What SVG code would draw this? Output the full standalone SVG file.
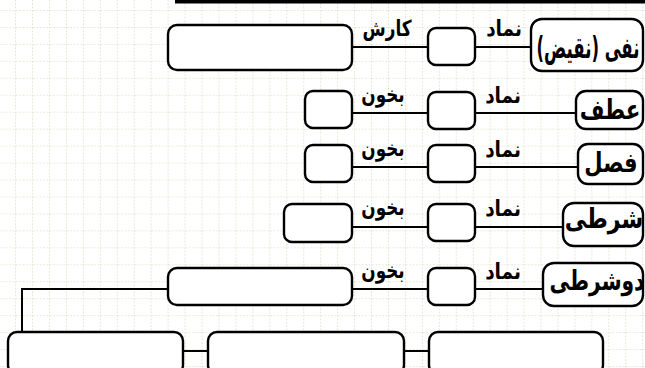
<svg xmlns="http://www.w3.org/2000/svg" width="645" height="368" viewBox="0 0 645 368">
<style>
.box{fill:#fff;stroke:#000;stroke-width:2.4}
.con{fill:none;stroke:#000;stroke-width:2}
.lbl{font-family:"DejaVu Sans",sans-serif;font-weight:bold;font-size:21px;fill:#000;text-anchor:middle;direction:rtl}
.nl{font-family:"DejaVu Sans",sans-serif;font-weight:bold;font-size:27px;fill:#000;text-anchor:middle;direction:rtl}
</style>
<defs>
<pattern id="grid" patternUnits="userSpaceOnUse" x="-0.9" y="10" width="16.95" height="16.95">
<line x1="0" y1="0" x2="16.95" y2="0" stroke="#e2dfca" stroke-width="1.6" stroke-dasharray="1.7 1.69"/>
<line x1="16.9" y1="0" x2="16.9" y2="16.95" stroke="#e2dfca" stroke-width="1.6" stroke-dasharray="1.7 1.69"/>
</pattern>
</defs>
<rect width="645" height="368" fill="#fff"/>
<rect width="645" height="368" fill="url(#grid)"/>
<rect x="175" y="0" width="470" height="3.5" fill="#000"/>

<g id="connectors">
<path class="con" d="M352 47H428M475 47H531"/>
<path class="con" d="M352 113H428M475 113H576"/>
<path class="con" d="M352 167H428M475 167H578"/>
<path class="con" d="M352 227H428M475 227H563"/>
<path class="con" d="M352 289H428M475 289H543"/>
<path class="con" d="M168 289H22V332"/>
<path class="con" d="M183 351H208M404 351H429"/>
</g>
<g id="labels">
<text class="lbl" transform="translate(387,36) scale(0.8,1.05)">کارش</text>
<text class="lbl" transform="translate(504,36) scale(0.88,1.05)">نماد</text>
<text class="lbl" transform="translate(383,102) scale(0.8,1.05)">بخون</text>
<text class="lbl" transform="translate(503,103) scale(0.88,1.05)">نماد</text>
<text class="lbl" transform="translate(383,156) scale(0.8,1.05)">بخون</text>
<text class="lbl" transform="translate(503,157) scale(0.88,1.05)">نماد</text>
<text class="lbl" transform="translate(383,215) scale(0.8,1.05)">بخون</text>
<text class="lbl" transform="translate(503,216) scale(0.88,1.05)">نماد</text>
<text class="lbl" transform="translate(383,278) scale(0.8,1.05)">بخون</text>
<text class="lbl" transform="translate(503,279) scale(0.88,1.05)">نماد</text>
</g>

<g id="n1-label"><rect class="box" x="531" y="19" width="112" height="52" rx="11"/><text class="nl" style="font-size:25px" transform="translate(588,58) scale(0.66,1.18)">نفی (نقیض)</text></g>
<g id="n1-symbol"><rect class="box" x="428" y="28" width="47" height="37" rx="8"/></g>
<g id="n1-result"><rect class="box" x="168" y="25" width="184" height="45" rx="9"/></g>

<g id="n2-label"><rect class="box" x="576" y="91" width="67" height="38" rx="10"/><text class="nl" transform="translate(610,119) scale(0.79,1)">عطف</text></g>
<g id="n2-symbol"><rect class="box" x="428" y="92" width="47" height="37" rx="8"/></g>
<g id="n2-read"><rect class="box" x="305" y="91" width="47" height="37" rx="8"/></g>

<g id="n3-label"><rect class="box" x="578" y="144" width="65" height="40" rx="10"/><text class="nl" transform="translate(611,172) scale(0.78,1)">فصل</text></g>
<g id="n3-symbol"><rect class="box" x="428" y="145" width="47" height="37" rx="8"/></g>
<g id="n3-read"><rect class="box" x="305" y="145" width="47" height="37" rx="8"/></g>

<g id="n4-label"><rect class="box" x="563" y="203" width="80" height="43" rx="11"/><text class="nl" transform="translate(604,228) scale(0.82,1)">شرطی</text></g>
<g id="n4-symbol"><rect class="box" x="428" y="204" width="47" height="37" rx="8"/></g>
<g id="n4-read"><rect class="box" x="284" y="204" width="68" height="38" rx="8"/></g>

<g id="n5-label"><rect class="box" x="543" y="263" width="100" height="43" rx="11"/><text class="nl" transform="translate(597,290) scale(0.75,1)">دوشرطی</text></g>
<g id="n5-symbol"><rect class="box" x="428" y="268" width="47" height="37" rx="8"/></g>
<g id="n5-read"><rect class="box" x="168" y="268" width="184" height="37" rx="9"/></g>

<g id="b1"><rect class="box" x="8" y="332" width="175" height="42" rx="9"/></g>
<g id="b2"><rect class="box" x="208" y="332" width="196" height="42" rx="9"/></g>
<g id="b3"><rect class="box" x="429" y="332" width="174" height="42" rx="9"/></g>
</svg>
